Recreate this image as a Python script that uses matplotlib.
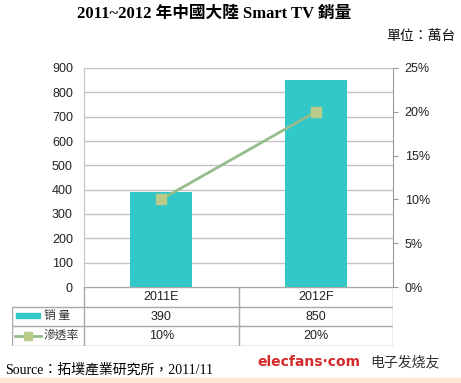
import matplotlib.pyplot as plt
from matplotlib.patches import Rectangle
from matplotlib.lines import Line2D

# chart data
categories = ['2011E', '2012F']
sales = [390, 850]              # 萬台
penetration = [10, 20]          # %
sales_labels = ['390', '850']
pen_labels = ['10%', '20%']

CJK = ['Liberation Sans', 'Noto Sans CJK TC', 'DejaVu Sans']
plt.rcParams['font.family'] = CJK

W, H = 461, 383
fig = plt.figure(figsize=(W / 100, H / 100), dpi=100)

def fx(px):
    return px / W

def fy(py):
    return 1 - py / H

# main plot area in pixels
L, R, T, B = 84, 393, 68, 287
ax = fig.add_axes([fx(L), fy(B), fx(R) - fx(L), fy(T) - fy(B)])
x = list(range(len(categories)))
ax.bar(x, sales, width=0.4, color='#32C8C8', zorder=3)
ax.set_xlim(-0.5, len(categories) - 0.5)
ax.set_ylim(0, 900)
ax.set_yticks(range(0, 901, 100))
ax.tick_params(axis='y', length=0, labelsize=9, colors='#222222', pad=8)
ax.set_xticks([])
ax.grid(axis='y', color='#C4C4C4', linewidth=1, zorder=0)
for s in ['top', 'right', 'bottom']:
    ax.spines[s].set_visible(False)
ax.spines['left'].set_color('#C4C4C4')

ax2 = ax.twinx()
ax2.plot(x, penetration, color='#95BC8C', linewidth=2, marker='s',
         markersize=7, markerfacecolor='#BACB8A', markeredgecolor='#BACB8A', zorder=4)
ax2.set_ylim(0, 25)
ax2.set_yticks(range(0, 26, 5))
ax2.set_yticklabels([f'{v}%' for v in range(0, 26, 5)])
ax2.tick_params(axis='y', length=3.5, color='#9A9A9A', labelsize=9, colors='#222222', pad=5)
for s in ['top', 'left', 'bottom']:
    ax2.spines[s].set_visible(False)
ax2.spines['right'].set_color('#9A9A9A')
ax2.yaxis.set_tick_params(color='#9A9A9A')

# data table below the plot
tab = fig.add_axes([fx(12), fy(346), fx(R) - fx(12), fy(B) - fy(346)])
tab.set_xlim(-0.5 - (L - 12) / ((R - L) / 2), len(categories) - 0.5)
tab.set_ylim(3, 0)
tab.axis('off')
gc = '#A8A8A8'
x0 = tab.get_xlim()[0]
tab.plot([-0.5, 1.5], [0, 0], color=gc, lw=1)
for yy in [1, 2, 3]:
    tab.plot([x0, 1.5], [yy, yy], color=gc, lw=1)
for xx in [-0.5, 0.5, 1.5]:
    tab.plot([xx, xx], [0, 3], color=gc, lw=1)
tab.plot([x0, x0], [1, 3], color=gc, lw=1)
for i, c in enumerate(categories):
    tab.text(i, 0.5, c, ha='center', va='center', fontsize=9, color='#222222')
    tab.text(i, 1.5, sales_labels[i], ha='center', va='center', fontsize=9, color='#222222')
    tab.text(i, 2.5, pen_labels[i], ha='center', va='center', fontsize=9, color='#222222')

# legend keys inside table
fig.patches.append(Rectangle((fx(16), fy(318)), fx(40) - fx(16), fy(313) - fy(318),
                             transform=fig.transFigure, color='#32C8C8'))
fig.lines.append(Line2D([fx(15), fx(41)], [fy(335.5)] * 2, transform=fig.transFigure,
                        color='#95BC8C', lw=2))
fig.lines.append(Line2D([fx(28)], [fy(335.5)], transform=fig.transFigure, marker='s',
                        markersize=6, color='#BACB8A'))
fig.text(fx(44), fy(315.5), '销 量', fontsize=8.5, va='center', color='#333333',
         family=['Noto Sans CJK SC'])
fig.text(fx(44), fy(335.5), '滲透率', fontsize=8.5, va='center', color='#333333',
         family=['Noto Sans CJK TC'])

# titles
fig.text(fx(214), fy(14), '2011~2012 年中國大陸 Smart TV 銷量', ha='center', va='center',
         fontsize=12, fontweight='bold', family=['Liberation Serif', 'Noto Sans CJK TC'])
fig.text(fx(456), fy(36), '單位：萬台', ha='right', va='center', fontsize=10, color='#111111',
         family=['Noto Sans CJK TC'])

# source + watermark
fig.text(fx(5), fy(370), 'Source：拓墣產業研究所，2011/11', ha='left', va='center', fontsize=10,
         family=['Liberation Serif', 'Noto Sans CJK TC'])
fig.text(fx(257), fy(362), 'elecfans·com', ha='left', va='center', fontsize=10,
         fontweight='bold', color='#D42A2A', family=['DejaVu Sans'])
fig.text(fx(370), fy(362), '电子发烧友', ha='left', va='center', fontsize=10,
         color='#333333', family=['Noto Sans CJK SC'])
fig.patches.append(Rectangle((0, 0), 1, fy(378), transform=fig.transFigure,
                             color='#FCE6D4', zorder=0))

fig.savefig('out.png', dpi=100)
